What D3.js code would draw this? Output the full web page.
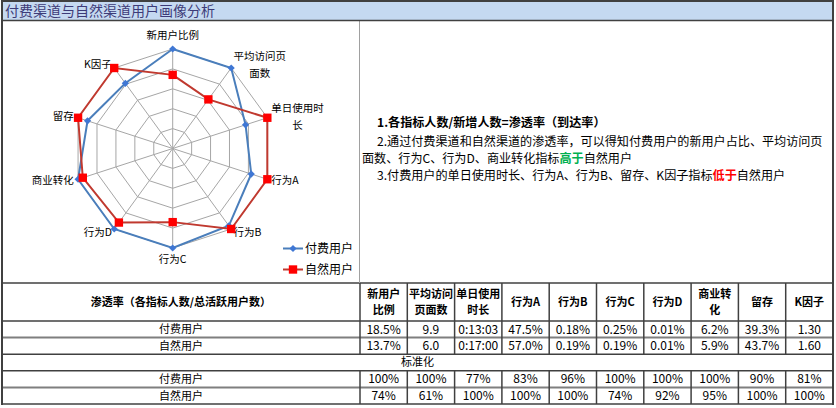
<!DOCTYPE html>
<html>
<head>
<meta charset="UTF-8">
<script src="https://cdn.jsdelivr.net/npm/d3@7"></script>
<style>
    body { margin: 0; background: #fff; }
    svg text { font-family: "Noto Sans CJK SC", "Noto Sans", sans-serif; fill: #000; }
</style>
</head>
<body>
<div id="chart"></div>
<script>
// ---- data ----
const title = '付费渠道与自然渠道用户画像分析';
const axes = ['新用户比例', '平均访问页面数', '单日使用时长', '行为A', '行为B', '行为C', '行为D', '商业转化', '留存', 'K因子'];
const axisLabelLines = [['新用户比例'], ['平均访问页', '面数'], ['单日使用时', '长'], ['行为A'], ['行为B'], ['行为C'], ['行为D'], ['商业转化'], ['留存'], ['K因子']];
const headerLines = [['新用户', '比例'], ['平均访问', '页面数'], ['单日使用', '时长'], ['行为A'], ['行为B'], ['行为C'], ['行为D'], ['商业转', '化'], ['留存'], ['K因子']];
const seriesNames = ['付费用户', '自然用户'];
const paidRaw = ['18.5%', '9.9', '0:13:03', '47.5%', '0.18%', '0.25%', '0.01%', '6.2%', '39.3%', '1.30'];
const organicRaw = ['13.7%', '6.0', '0:17:00', '57.0%', '0.19%', '0.19%', '0.01%', '5.9%', '43.7%', '1.60'];
const paidNorm = [100, 100, 77, 83, 96, 100, 100, 100, 90, 81];
const organicNorm = [74, 61, 100, 100, 100, 74, 92, 95, 100, 100];
const ringTicks = [20, 40, 60, 80, 100];
const tableTitle = '渗透率（各指标人数/总活跃用户数）';
const normTitle = '标准化';

const W = 836, H = 408;
const svg = d3.select('#chart').append('svg').attr('width', W).attr('height', H);

// title bar
svg.append('rect').attr('x', 2).attr('y', 1).attr('width', 831).attr('height', 19)
    .attr('fill', '#c5d9f1');
svg.append('text').attr('x', 5).attr('y', 11).attr('dy', '0.35em')
    .style('font-size', '14px').style('fill', '#3d3b78')
    .text(title);

// ---- radar ----
const cx = 172.7, cy = 148.5, R = 99.5;
const r = d3.scaleLinear().domain([0, 100]).range([0, R]);
const angle = d3.scaleLinear().domain([0, axes.length]).range([0, 2 * Math.PI]);
const pt = (i, v) => [cx + r(v) * Math.sin(angle(i)), cy - r(v) * Math.cos(angle(i))];
const closed = d3.line().curve(d3.curveLinearClosed);

const grid = svg.append('g');
ringTicks.forEach(t => {
    grid.append('path').attr('d', closed(axes.map((a, i) => pt(i, t))))
        .attr('fill', 'none').attr('stroke', '#a6a6a6').attr('stroke-width', 1);
});
axes.forEach((a, i) => {
    const [x, y] = pt(i, 100);
    grid.append('line').attr('x1', cx).attr('y1', cy).attr('x2', x).attr('y2', y)
        .attr('stroke', '#a6a6a6').attr('stroke-width', 1);
});

// axis labels
axes.forEach((a, i) => {
    const s = Math.sin(angle(i)), c = Math.cos(angle(i));
    let lx = cx + (R + 4) * s, ly = cy - (R + 4) * c;
    if (Math.abs(s) < 0.1) ly += c > 0 ? -10 : 7;
    const g = svg.append('g');
    const lines = axisLabelLines[i];
    lines.forEach((l, k) => {
        g.append('text').attr('x', 0).attr('y', (k - (lines.length - 1) / 2) * 17)
            .attr('dy', '0.35em').attr('text-anchor', 'middle')
            .style('font-size', '10.5px').text(l);
    });
    const bb = g.node().getBBox();
    let tx = lx;
    if (s > 0.1) tx = lx - bb.x;
    else if (s < -0.1) tx = lx - (bb.x + bb.width);
    g.attr('transform', `translate(${tx},${ly})`);
});

const series = [
    { name: seriesNames[0], values: paidNorm, line: '#4a7ebb', fill: '#3f77d4', shape: 'diamond' },
    { name: seriesNames[1], values: organicNorm, line: '#c0392f', fill: '#ff0000', shape: 'square' }
];
const marker = (sel, s) => {
    if (s.shape === 'diamond') {
        sel.attr('d', d3.symbol(d3.symbolSquare, 26)()).attr('fill', s.fill);
    } else {
        sel.attr('d', d3.symbol(d3.symbolSquare, 70)()).attr('fill', s.fill);
    }
};
series.forEach(s => {
    svg.append('path').attr('d', closed(s.values.map((v, i) => pt(i, v))))
        .attr('fill', 'none').attr('stroke', s.line).attr('stroke-width', 2);
});
series.forEach(s => {
    svg.selectAll(null).data(s.values).enter().append('path')
        .call(marker, s)
        .attr('transform', (v, i) => {
            const [x, y] = pt(i, v);
            return `translate(${x},${y})` + (s.shape === 'diamond' ? ' rotate(45)' : '');
        });
});

// legend
const legY = d3.scalePoint().domain(seriesNames).range([248.5, 269.5]);
series.forEach(s => {
    const y = legY(s.name);
    svg.append('line').attr('x1', 283).attr('x2', 303).attr('y1', y).attr('y2', y)
        .attr('stroke', s.line).attr('stroke-width', 2);
    svg.append('path').call(marker, s)
        .attr('transform', `translate(293,${y})` + (s.shape === 'diamond' ? ' rotate(45)' : ''));
    svg.append('text').attr('x', 305).attr('y', y).attr('dy', '0.35em')
        .style('font-size', '12px').text(s.name);
});

// ---- notes ----
const notes = svg.append('g').style('font-size', '12.1px');
notes.append('text').attr('x', 377).attr('y', 123).attr('dy', '0.35em')
    .style('font-weight', 'bold').text('1.各指标人数/新增人数=渗透率（到达率）');
notes.append('text').attr('x', 377).attr('y', 142).attr('dy', '0.35em')
    .text('2.通过付费渠道和自然渠道的渗透率，可以得知付费用户的新用户占比、平均访问页');
const n3 = notes.append('text').attr('x', 362).attr('y', 159).attr('dy', '0.35em');
n3.append('tspan').text('面数、行为C、行为D、商业转化指标');
n3.append('tspan').style('fill', '#00b050').style('font-weight', 'bold').text('高于');
n3.append('tspan').text('自然用户');
const n4 = notes.append('text').attr('x', 377).attr('y', 176).attr('dy', '0.35em');
n4.append('tspan').text('3.付费用户的单日使用时长、行为A、行为B、留存、K因子指标');
n4.append('tspan').style('fill', '#ff0000').style('font-weight', 'bold').text('低于');
n4.append('tspan').text('自然用户');

// ---- table ----
const left = 2, right = 833, tableTop = 283, headBottom = 321, bottom = 404;
const col = d3.scaleBand().domain(axes).range([360, right]);
const rowIds = ['paid', 'organic', 'norm', 'paidN', 'organicN'];
const row = d3.scaleBand().domain(rowIds).range([headBottom, bottom]);
const rowLabel = { paid: seriesNames[0], organic: seriesNames[1], paidN: seriesNames[0], organicN: seriesNames[1] };
const rowValues = {
    paid: paidRaw, organic: organicRaw,
    paidN: paidNorm.map(v => v + '%'), organicN: organicNorm.map(v => v + '%')
};
const lineC = '#404040';
const tbl = svg.append('g');

// header
tbl.append('text').attr('x', (left + 360) / 2).attr('y', (tableTop + headBottom) / 2).attr('dy', '0.35em')
    .attr('text-anchor', 'middle').style('font-size', '11px').style('font-weight', 'bold').text(tableTitle);
axes.forEach((a, i) => {
    const lines = headerLines[i];
    lines.forEach((l, k) => {
        tbl.append('text').attr('x', col(a) + col.bandwidth() / 2)
            .attr('y', (tableTop + headBottom) / 2 + (k - (lines.length - 1) / 2) * 16)
            .attr('dy', '0.35em').attr('text-anchor', 'middle')
            .style('font-size', '11px').style('font-weight', 'bold').text(l);
    });
});

// rows
rowIds.forEach(id => {
    const yc = row(id) + row.bandwidth() / 2;
    if (id === 'norm') {
        tbl.append('text').attr('x', (left + right) / 2).attr('y', yc).attr('dy', '0.35em')
            .attr('text-anchor', 'middle').style('font-size', '11px').text(normTitle);
        return;
    }
    tbl.append('text').attr('x', (left + 360) / 2).attr('y', yc).attr('dy', '0.35em')
        .attr('text-anchor', 'middle').style('font-size', '11px').text(rowLabel[id]);
    axes.forEach((a, i) => {
        tbl.append('text').attr('x', col(a) + col.bandwidth() / 2).attr('y', yc).attr('dy', '0.35em')
            .attr('text-anchor', 'middle').style('font-size', '12px').text(rowValues[id][i]);
    });
});

// table lines (the lines under the first row of each block are lighter and wider)
const hLines = [tableTop, headBottom, ...rowIds.slice(1).map(id => row(id)), bottom];
hLines.forEach(y => {
    const soft = y === row('organic') || y === row('organicN');
    tbl.append('line').attr('x1', left).attr('x2', right).attr('y1', y).attr('y2', y)
        .attr('stroke', soft ? '#7f7f7f' : lineC).attr('stroke-width', soft ? 2 : 1.5);
});
const vSegs = [[tableTop, row('norm')], [row('paidN'), bottom]];
[360, ...axes.slice(1).map(a => col(a))].forEach(x => {
    vSegs.forEach(([y1, y2]) => {
        tbl.append('line').attr('x1', x).attr('x2', x).attr('y1', y1).attr('y2', y2)
            .attr('stroke', lineC).attr('stroke-width', 1.5);
    });
});

// panel divider and frame
svg.append('line').attr('x1', 359.5).attr('x2', 359.5).attr('y1', 20).attr('y2', tableTop)
    .attr('stroke', '#a0a0a0').attr('stroke-width', 1);
svg.append('line').attr('x1', left).attr('x2', right).attr('y1', 1).attr('y2', 1)
    .attr('stroke', lineC).attr('stroke-width', 2);
svg.append('line').attr('x1', left).attr('x2', right).attr('y1', 20.5).attr('y2', 20.5)
    .attr('stroke', lineC).attr('stroke-width', 1.5);
[left, right].forEach(x => {
    svg.append('line').attr('x1', x).attr('x2', x).attr('y1', 0).attr('y2', bottom + 1)
        .attr('stroke', lineC).attr('stroke-width', 2);
});
</script>
</body>
</html>
